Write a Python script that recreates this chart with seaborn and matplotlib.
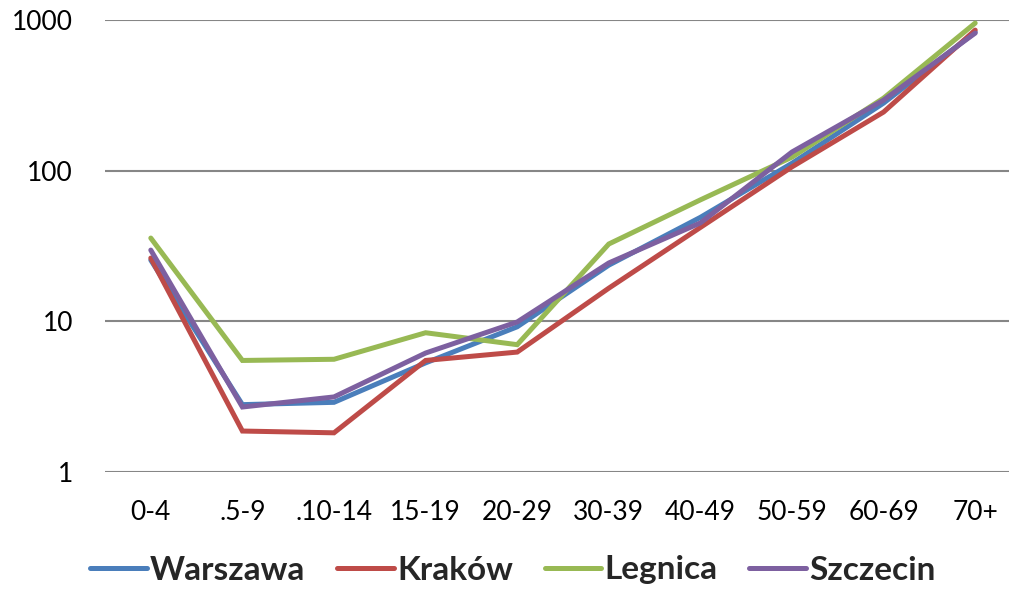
import matplotlib
matplotlib.use("Agg")
import matplotlib.pyplot as plt
import seaborn as sns
import pandas as pd

categories = ["0-4", ".5-9", ".10-14", "15-19", "20-29", "30-39", "40-49", "50-59", "60-69", "70+"]
warszawa = [25.5, 2.8, 2.9, 5.3, 9.2, 23.6, 49, 112, 281, 831]
krakow = [26.3, 1.87, 1.82, 5.5, 6.25, 16.6, 42, 106, 245, 857]
legnica = [35.7, 5.5, 5.6, 8.4, 7.0, 32.6, 64, 123, 303, 954]
szczecin = [29.7, 2.7, 3.15, 6.16, 9.9, 24.4, 45, 133, 294, 819]
series_names = ["Warszawa", "Kraków", "Legnica", "Szczecin"]
colors = ["#4A7EBB", "#BE4B48", "#98B954", "#7D60A0"]

rows = []
for name, vals in zip(series_names, [warszawa, krakow, legnica, szczecin]):
    for i, (c, v) in enumerate(zip(categories, vals)):
        rows.append({"x": i, "cat": c, "value": v, "city": name})
df = pd.DataFrame(rows)

sns.set_theme(style="white")
plt.rcParams["font.family"] = ["Lato", "DejaVu Sans"]

fig = plt.figure(figsize=(10.09, 5.9), dpi=100)
ax = fig.add_axes([105/1009, 1 - 472/590, 916/1009, 452/590])

sns.lineplot(data=df, x="x", y="value", hue="city", palette=colors,
             hue_order=series_names, linewidth=3.6, ax=ax, sort=False,
             solid_capstyle="round", solid_joinstyle="miter")

ax.set_yscale("log")
ax.set_ylim(1, 1000)
ax.set_xlim(-0.5, 9.5)
ax.set_yticks([1, 10, 100, 1000])
ax.set_yticklabels(["1", "10", "100", "1000"])
ax.minorticks_off()
ax.set_xticks(range(len(categories)))
ax.set_xticklabels(categories)
ax.tick_params(axis="y", length=0, pad=23, labelsize=19, colors="black")
ax.tick_params(axis="x", length=0, pad=20, labelsize=19, colors="black")
ax.yaxis.grid(True, color="#868686", linewidth=1.5)
ax.xaxis.grid(False)
for s in ax.spines.values():
    s.set_visible(False)
ax.set_xlabel("")
ax.set_ylabel("")

handles, labels = ax.get_legend_handles_labels()
ax.legend(handles, labels, loc="center", bbox_to_anchor=(513/1009, 1 - 570/590),
          bbox_transform=fig.transFigure, ncol=4, frameon=False,
          prop={"weight": "bold", "size": 24}, handlelength=1.7,
          handletextpad=0.1, columnspacing=0.95)

fig.savefig("out.png", dpi=100)
